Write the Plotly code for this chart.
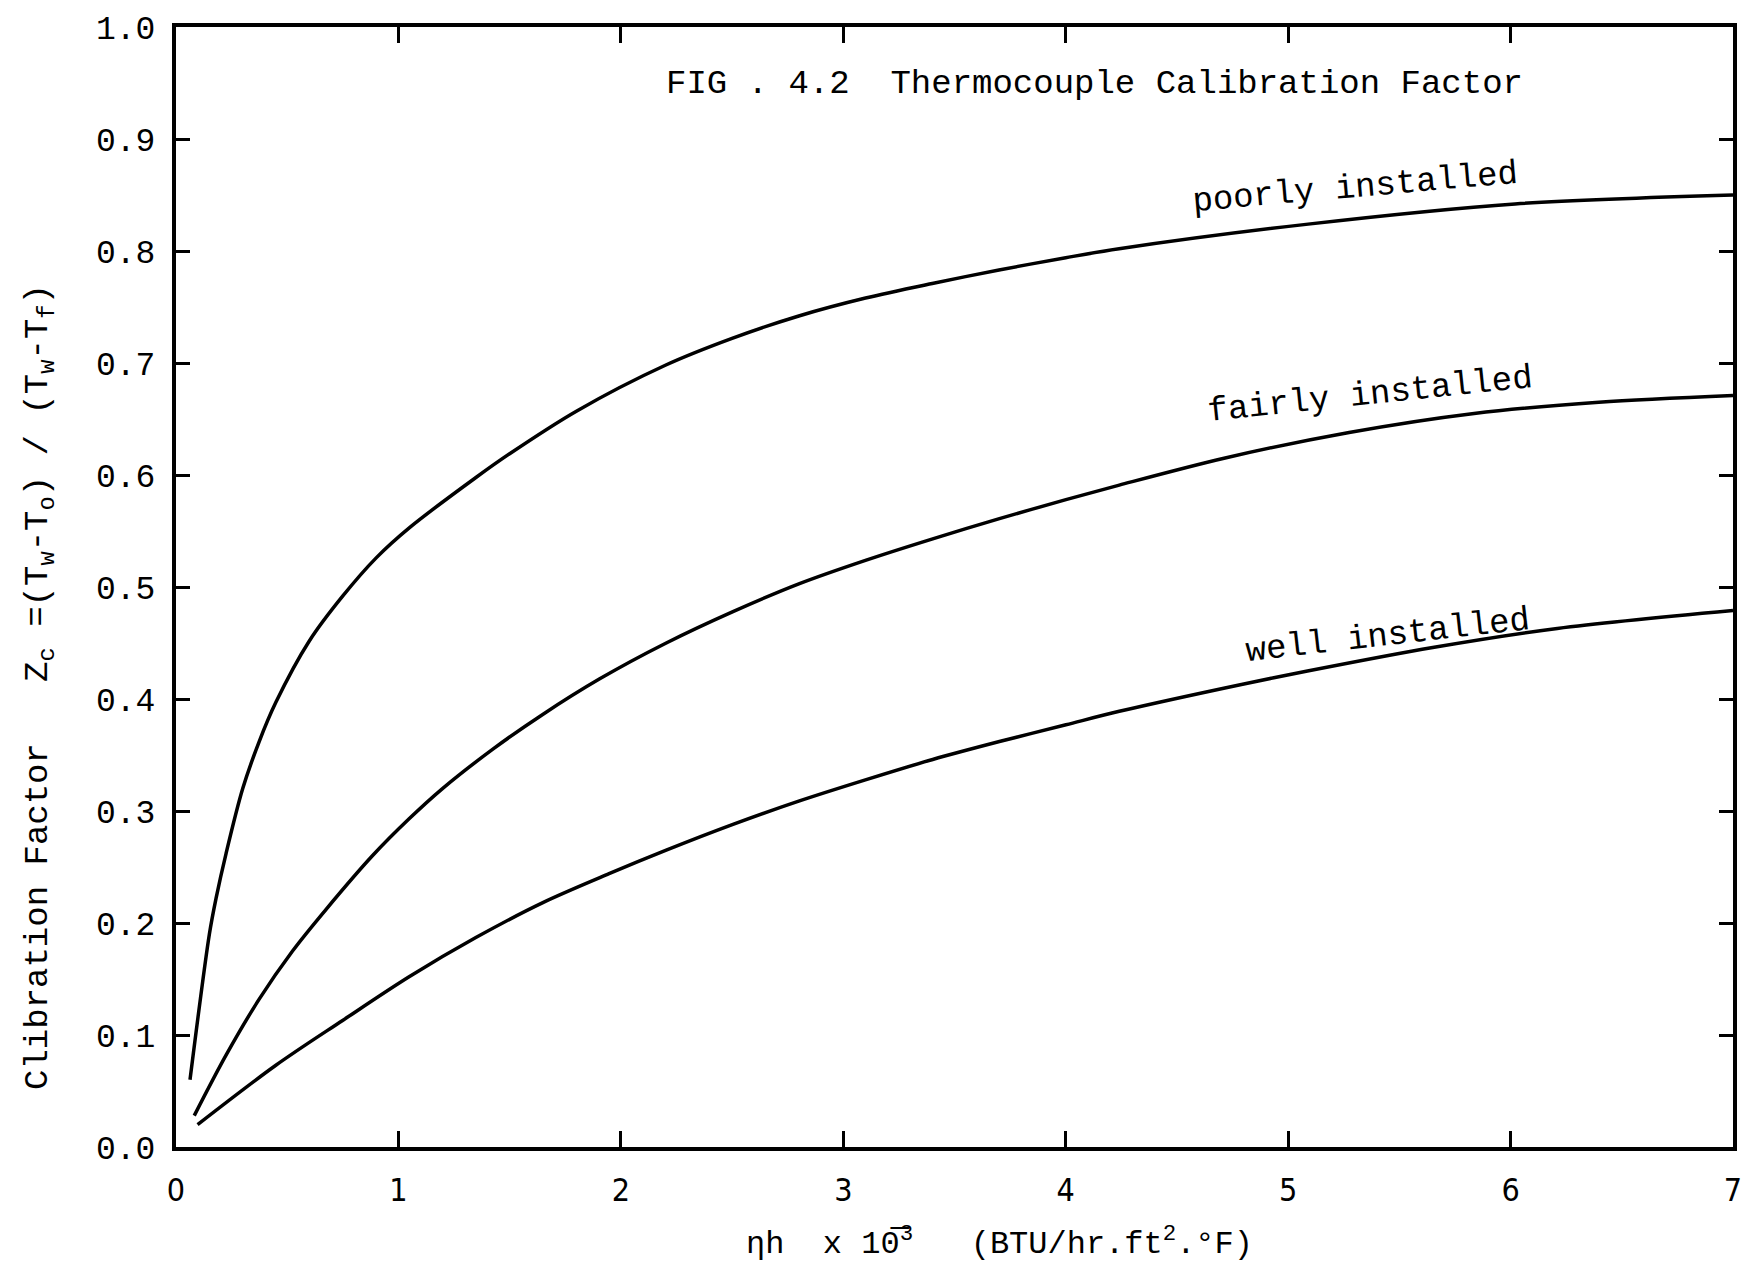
import plotly.graph_objects as go

# Calibration curves: eta*h (x 10^-3 BTU/hr.ft2.F) vs calibration factor Zc
poorly_x = [0.063, 0.15, 0.18, 0.225, 0.30, 0.374, 0.449, 0.60, 0.75, 0.90,
            1.05, 1.35, 1.50, 1.80, 2.20, 2.50, 2.80, 3.10, 3.40, 3.70, 4.00,
            4.24, 5.09, 6.02, 7.0]
poorly_y = [0.060, 0.190, 0.222, 0.262, 0.320, 0.362, 0.397, 0.452, 0.492, 0.526,
            0.553, 0.598, 0.619, 0.657, 0.698, 0.722, 0.742, 0.758, 0.771, 0.783, 0.794,
            0.802, 0.824, 0.842, 0.850]

fairly_x = [0.082, 0.225, 0.374, 0.524, 0.674, 0.883, 1.048, 1.198, 1.423, 1.647, 1.905,
            2.204, 2.504, 2.803, 3.103, 3.402, 3.702, 4.001, 4.241, 4.712, 5.274, 5.836,
            6.397, 7.0]
fairly_y = [0.028, 0.082, 0.132, 0.175, 0.212, 0.260, 0.293, 0.320, 0.355, 0.386, 0.418,
            0.450, 0.478, 0.503, 0.524, 0.543, 0.561, 0.578, 0.591, 0.615, 0.638, 0.655,
            0.665, 0.671]

well_x = [0.097, 0.449, 0.749, 1.048, 1.348, 1.647, 1.947, 2.204, 2.504, 2.803, 3.103,
          3.402, 3.702, 4.001, 4.241, 4.79, 5.087, 5.65, 6.21, 7.0]
well_y = [0.020, 0.073, 0.113, 0.152, 0.187, 0.218, 0.244, 0.265, 0.288, 0.309, 0.328,
          0.346, 0.362, 0.377, 0.389, 0.413, 0.425, 0.446, 0.463, 0.479]

curve_labels = ["poorly installed", "fairly installed", "well installed"]
x_ticks = [0, 1, 2, 3, 4, 5, 6, 7]
y_ticks = [round(0.1 * i, 1) for i in range(11)]

TYPE = "Liberation Mono, Courier New, monospace"
HAND = "Liberation Sans Narrow, DejaVu Sans Condensed, Liberation Sans, sans-serif"

fig = go.Figure()
for xs, ys in [(poorly_x, poorly_y), (fairly_x, fairly_y), (well_x, well_y)]:
    fig.add_trace(go.Scatter(
        x=xs, y=ys, mode="lines",
        line=dict(color="black", width=3.5, shape="spline", smoothing=0.9),
        showlegend=False, hoverinfo="skip"))

axis_common = dict(
    showline=True, linewidth=4, linecolor="black", mirror="ticks",
    ticks="inside", tickcolor="black", tickwidth=3,
    showgrid=False, zeroline=False,
)

fig.update_layout(
    width=1754, height=1274,
    margin=dict(l=176, r=20, t=20, b=127),
    paper_bgcolor="white", plot_bgcolor="white",
    xaxis=dict(range=[0, 7], tickvals=x_ticks, ticktext=[str(v) for v in x_ticks],
               ticklen=16, ticklabelstandoff=12,
               tickfont=dict(family=HAND, size=32, color="black"), **axis_common),
    yaxis=dict(range=[0, 1.0], tickvals=y_ticks, ticktext=[f"{v:.1f}" for v in y_ticks],
               ticklen=14, ticklabelstandoff=10,
               tickfont=dict(family=TYPE, size=33, color="black"), **axis_common),
)

nb = "\u00a0"
annotations = [
    dict(text=f"FIG{nb}.{nb}4.2{nb}{nb}Thermocouple{nb}Calibration{nb}Factor",
         x=4.13, y=0.949, xref="x", yref="y", showarrow=False,
         font=dict(family=TYPE, size=34, color="black")),
    dict(text=curve_labels[0], x=5.30, y=0.856, xref="x", yref="y", showarrow=False,
         textangle=-5, font=dict(family=TYPE, size=34, color="black")),
    dict(text=curve_labels[1], x=5.37, y=0.671, xref="x", yref="y", showarrow=False,
         textangle=-6, font=dict(family=TYPE, size=34, color="black")),
    dict(text=curve_labels[2], x=5.45, y=0.456, xref="x", yref="y", showarrow=False,
         textangle=-6.5, font=dict(family=TYPE, size=34, color="black")),
    dict(text=(f"Clibration{nb}Factor{nb}{nb}{nb}Z<sub>c</sub>{nb}=(T<sub>w</sub>-T<sub>o</sub>)"
               f"{nb}/{nb}(T<sub>w</sub>-T<sub>f</sub>)"),
         x=(40 - 176) / 1558, y=(1147 - 684) / 1127, xref="paper", yref="paper",
         xanchor="center", yanchor="middle", showarrow=False, textangle=-90,
         font=dict(family=TYPE, size=34, color="black")),
    dict(text=(f"\u03b7h{nb}{nb}x{nb}10\u0305<sup>3</sup>{nb}{nb}{nb}"
               f"(BTU/hr.ft<sup>2</sup>.\u00b0F)"),
         x=(1000 - 176) / 1558, y=(1147 - 1243) / 1127, xref="paper", yref="paper",
         xanchor="center", yanchor="middle", showarrow=False,
         font=dict(family=TYPE, size=32, color="black")),
]
fig.update_layout(annotations=annotations)

fig.write_html("out.html")
